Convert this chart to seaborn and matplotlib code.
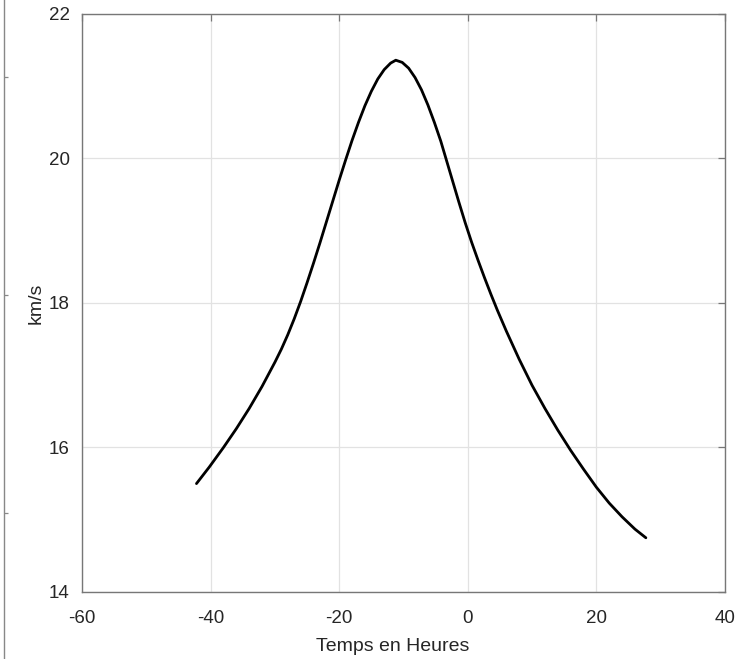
import matplotlib
matplotlib.use("Agg")
import matplotlib.pyplot as plt
import seaborn as sns

# Hours relative to closest approach, and speed in km/s
hours = [
    -42.2, -40.2, -38.0, -36.0, -34.0, -32.0, -30.0, -29.0, -28.0, -27.0,
    -26.0, -25.0, -24.0, -23.0, -22.0, -21.0, -20.0, -19.0, -18.0, -17.0,
    -16.0, -15.0, -14.0, -13.0, -12.0, -11.2, -10.2, -9.2, -8.2, -7.2,
    -6.2, -5.2, -4.2, -3.4, -2.4, -1.4, -0.4, 0.6, 1.6, 2.6,
    3.6, 4.6, 6.0, 8.0, 10.0, 12.0, 14.0, 16.0, 18.0, 20.0,
    22.0, 24.0, 26.0, 27.7,
]
speed_kms = [
    15.50, 15.73, 16.00, 16.26, 16.54, 16.845, 17.18, 17.36, 17.56, 17.78,
    18.02, 18.28, 18.55, 18.83, 19.12, 19.41, 19.70, 19.98, 20.25, 20.50,
    20.73, 20.93, 21.10, 21.23, 21.32, 21.36, 21.33, 21.25, 21.12, 20.95,
    20.74, 20.50, 20.24, 20.00, 19.70, 19.40, 19.11, 18.84, 18.59, 18.35,
    18.12, 17.90, 17.61, 17.22, 16.86, 16.54, 16.24, 15.96, 15.70, 15.45,
    15.23, 15.04, 14.87, 14.75,
]

x_ticks = [-60, -40, -20, 0, 20, 40]
y_ticks = [14, 16, 18, 20, 22]

sns.set_theme(style="white")
plt.rcParams["font.family"] = ["Liberation Sans", "DejaVu Sans"]
plt.rcParams["axes.unicode_minus"] = False

fig = plt.figure(figsize=(7.39, 6.59), dpi=100)
ax = fig.add_axes([0.111, 0.1017, 0.870, 0.8771])

sns.lineplot(x=hours, y=speed_kms, ax=ax, color="black", linewidth=2.0,
             sort=False, estimator=None)

ax.set_xlim(-60, 40)
ax.set_ylim(14, 22)
ax.set_xticks(x_ticks)
ax.set_yticks(y_ticks)
ax.grid(True, color="#e2e2e2", linewidth=0.9)
ax.set_axisbelow(True)

for side in ["top", "right", "bottom", "left"]:
    ax.spines[side].set_visible(True)
    ax.spines[side].set_color("#777777")
    ax.spines[side].set_linewidth(1.0)

ax.tick_params(direction="in", length=5, width=0.9, color="#777777",
               top=True, right=True, labelsize=13.5, labelcolor="#262626")
ax.tick_params(axis="x", pad=13)
ax.tick_params(axis="y", pad=9)

ax.set_xlabel("Temps en Heures", fontsize=14, color="#262626")
ax.xaxis.set_label_coords(0.483, -0.08)
ax.set_ylabel("km/s", fontsize=14, color="#262626", labelpad=3)

# thin axis remnant at the left edge of the picture
edge = fig.add_axes([0.0, 0.0, 0.006, 1.0])
edge.set_xlim(0, 1)
edge.set_ylim(0, 1)
for side in ["top", "left", "bottom"]:
    edge.spines[side].set_visible(False)
edge.spines["right"].set_color("#888888")
edge.spines["right"].set_linewidth(1.0)
edge.set_xticks([])
edge.yaxis.tick_right()
edge.set_yticks([1 - 77 / 659, 1 - 295 / 659, 1 - 513 / 659])
edge.set_yticklabels([])
edge.tick_params(axis="y", direction="out", length=3, width=0.9, color="#888888")
edge.patch.set_alpha(0)

fig.savefig("out.png", dpi=100)
